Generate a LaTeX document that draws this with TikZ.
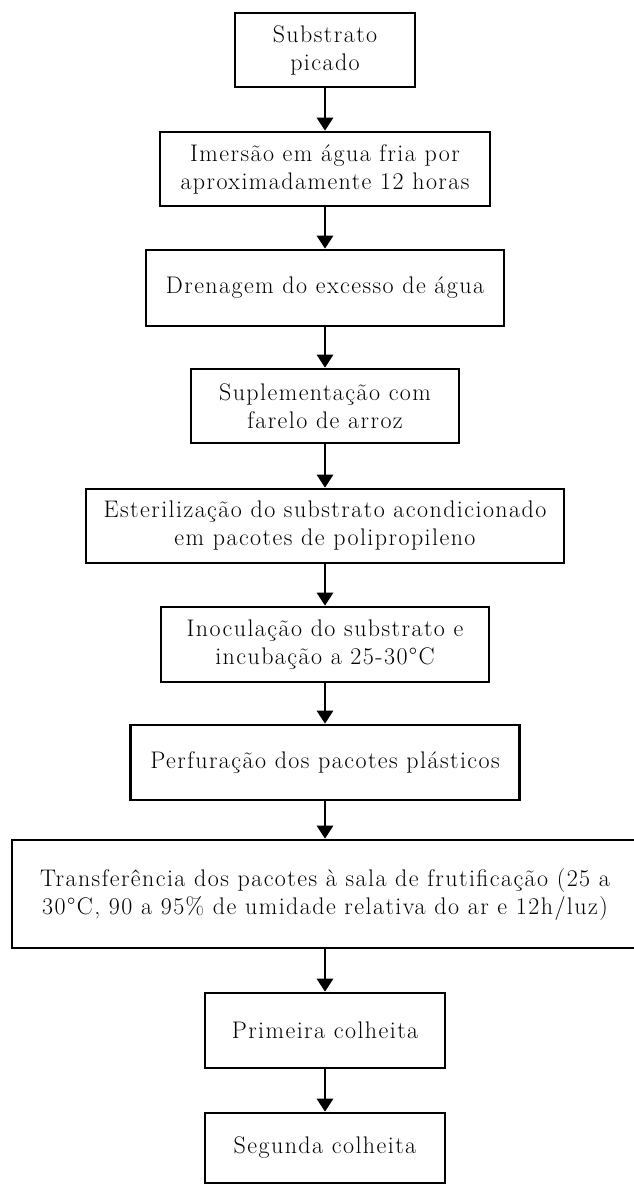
\documentclass[tikz,border=0pt]{standalone}
\usepackage{fontspec}
\setmainfont{Latin Modern Roman}[LetterSpace=6]
\usetikzlibrary{arrows.meta}
\begin{document}
\begin{tikzpicture}[x=1pt,y=-1pt,
  box/.style={draw=black, line width=2.6pt, fill=white, align=center, inner sep=0pt,
    font=\fontsize{24}{28}\selectfont},
  flow/.style={line width=2.8pt, -{Triangle[length=13pt,width=16pt]}}]
\useasboundingbox (0,0) rectangle (634,1184);
\node[box, minimum width=180pt, minimum height=74pt] (b1) at (325,50) {Substrato\\picado};
\node[box, minimum width=330pt, minimum height=74pt] (b2) at (325,169) {Imersão em água fria por\\aproximadamente 12 horas};
\node[box, minimum width=358pt, minimum height=76pt] (b3) at (325,288) {Drenagem do excesso de água};
\node[box, minimum width=268pt, minimum height=74pt] (b4) at (325,406) {Suplementação com\\farelo de arroz};
\node[box, minimum width=478pt, minimum height=74pt] (b5) at (325,526) {Esterilização do substrato acondicionado\\em pacotes de polipropileno};
\node[box, minimum width=328pt, minimum height=75pt] (b6) at (325,644.5) {Inoculação do substrato e\\incubação a 25-30°C};
\node[box, minimum width=389pt, minimum height=75pt] (b7) at (325,762.5) {Perfuração dos pacotes plásticos};
\node[box, minimum width=626pt, minimum height=108pt] (b8) at (325,894) {Transferência dos pacotes à sala de frutificação (25 a\\30°C, 90 a 95\% de umidade relativa do ar e 12h/luz)};
\node[box, minimum width=240pt, minimum height=75pt] (b9) at (325,1030.5) {Primeira colheita};
\node[box, minimum width=240pt, minimum height=70pt] (b10) at (325,1148) {Segunda colheita};
\foreach \a/\b in {b1/b2,b2/b3,b3/b4,b4/b5,b5/b6,b6/b7,b7/b8,b8/b9,b9/b10}
  \draw[flow] (\a.south) -- (\b.north);
\end{tikzpicture}
\end{document}
